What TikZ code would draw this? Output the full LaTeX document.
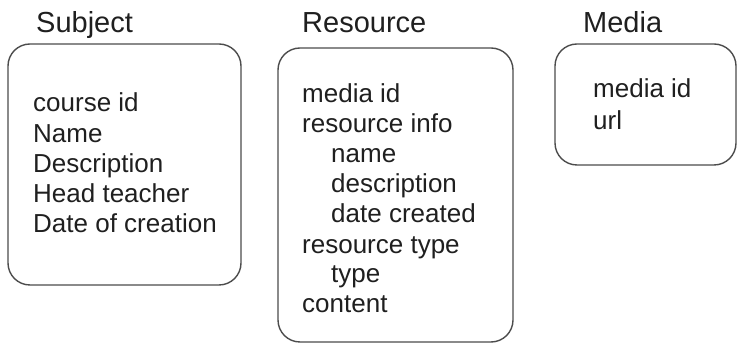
\documentclass[tikz,border=0pt]{standalone}
\usepackage{fontspec}
\setmainfont{Liberation Sans}
\begin{document}
\begin{tikzpicture}[x=1pt,y=-1pt,
  entity/.style={draw=black!70, line width=1.4pt, rounded corners=22pt, inner sep=0pt},
  title/.style={anchor=base west, inner sep=0pt, font=\fontsize{29}{33}\selectfont, text=black!88},
  field/.style={anchor=base west, inner sep=0pt, font=\fontsize{26}{30}\selectfont, text=black!88}]
\useasboundingbox (0,0) rectangle (737,344);

% entity boxes
\node[entity, minimum width=233pt, minimum height=241pt] (subj) at (124.5,164.5) {};
\node[entity, minimum width=235pt, minimum height=294pt] (res) at (395.5,195) {};
\node[entity, minimum width=181pt, minimum height=121pt] (med) at (645.5,104.5) {};

% titles
\node[title] (tsubj) at (36,32.5) {Subject};
\node[title] (tres) at (302,32.5) {Resource};
\node[title] (tmed) at (583,32.5) {Media};

% Subject fields
\node[field] (s1) at (33,112) {course id};
\node[field] (s2) at (33,142.5) {Name};
\node[field] (s3) at (33,173) {Description};
\node[field] (s4) at (33,203) {Head teacher};
\node[field] (s5) at (33,233) {Date of creation};

% Resource fields
\node[field] (r1) at (302,102.5) {media id};
\node[field] (r2) at (302,133) {resource info};
\node[field] (r3) at (331,162.5) {name};
\node[field] (r4) at (331,192.5) {description};
\node[field] (r5) at (331,223) {date created};
\node[field] (r6) at (302,254) {resource type};
\node[field] (r7) at (331,283) {type};
\node[field] (r8) at (302,312.5) {content};

% Media fields
\node[field] (m1) at (593,98) {media id};
\node[field] (m2) at (593,129.5) {url};
\end{tikzpicture}
\end{document}
